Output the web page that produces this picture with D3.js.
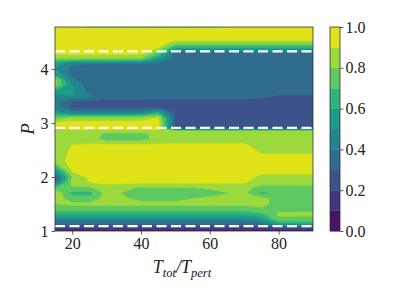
<!DOCTYPE html>
<html>
<head>
<meta charset="utf-8">
<script src="https://cdn.jsdelivr.net/npm/d3@7"></script>
<style>
body { margin: 0; background: #fff; }
text { font-family: "Liberation Serif", "DejaVu Serif", serif; fill: #222; }
</style>
</head>
<body>
<svg id="chart" width="399" height="299"></svg>
<script>
// grid columns: T_tot / T_pert
var ratios = [15, 20, 25, 30, 40, 45, 50, 60, 70, 75, 80, 85, 90];
// grid rows: P
var periods = [1.00, 1.05, 1.10, 1.15, 1.20, 1.30, 1.40, 1.50, 1.60, 1.70, 1.80, 1.90, 2.00, 2.10,
  2.30, 2.50, 2.60, 2.70, 2.80, 2.85, 2.90, 3.00, 3.10, 3.20, 3.30, 3.40, 3.50, 3.60, 3.70,
  3.80, 3.90, 4.00, 4.10, 4.20, 4.30, 4.40, 4.50, 4.60, 4.70, 4.78];

// one row per period, one value per ratio
var grid = [
  [.05, .05, .05, .05, .05, .05, .05, .05, .05, .05, .05, .05, .05],
  [.18, .18, .18, .18, .18, .18, .18, .18, .18, .18, .20, .22, .22],
  [.27, .27, .27, .27, .27, .27, .27, .27, .27, .30, .42, .44, .44],
  [.35, .35, .35, .35, .35, .35, .35, .35, .35, .40, .60, .62, .62],
  [.43, .43, .43, .43, .43, .43, .43, .43, .43, .50, .74, .75, .75],
  [.60, .60, .60, .60, .60, .60, .60, .60, .60, .66, .82, .82, .82],
  [.75, .75, .75, .75, .75, .75, .75, .75, .75, .78, .78, .78, .78],
  [.80, .82, .82, .82, .82, .82, .82, .82, .82, .83, .76, .76, .76],
  [.85, .75, .74, .84, .78, .78, .78, .82, .85, .84, .75, .74, .75],
  [.90, .66, .66, .84, .74, .74, .74, .77, .82, .68, .72, .74, .75],
  [.70, .78, .78, .86, .79, .79, .79, .81, .84, .76, .76, .76, .77],
  [.40, .85, .90, .92, .92, .92, .92, .92, .91, .84, .84, .84, .84],
  [.28, .80, .93, .95, .95, .95, .95, .95, .94, .88, .88, .88, .88],
  [.50, .90, .95, .95, .95, .95, .95, .95, .95, .92, .92, .92, .92],
  [.86, .93, .95, .95, .95, .95, .95, .95, .95, .94, .94, .94, .94],
  [.86, .91, .94, .95, .95, .95, .95, .95, .94, .88, .88, .88, .88],
  [.86, .90, .91, .91, .91, .91, .91, .91, .91, .86, .86, .86, .86],
  [.87, .87, .85, .76, .76, .84, .86, .86, .86, .86, .86, .86, .86],
  [.87, .87, .87, .77, .77, .84, .85, .85, .85, .85, .85, .85, .85],
  [.88, .88, .88, .88, .88, .88, .86, .86, .86, .86, .86, .86, .86],
  [.90, .92, .92, .92, .92, .93, .28, .28, .28, .28, .28, .28, .28],
  [.92, .95, .95, .95, .95, .95, .27, .27, .27, .27, .27, .27, .27],
  [.75, .82, .82, .82, .82, .90, .27, .27, .27, .27, .27, .27, .27],
  [.55, .42, .42, .42, .42, .60, .27, .27, .27, .27, .27, .27, .27],
  [.45, .27, .26, .26, .26, .27, .27, .27, .27, .27, .27, .27, .27],
  [.42, .30, .29, .27, .27, .27, .27, .27, .27, .27, .26, .26, .26],
  [.45, .50, .42, .35, .34, .34, .34, .34, .34, .32, .29, .29, .29],
  [.60, .52, .36, .35, .35, .35, .35, .35, .35, .35, .35, .35, .35],
  [.82, .50, .35, .35, .35, .35, .35, .35, .35, .35, .35, .35, .35],
  [.85, .42, .35, .35, .35, .35, .35, .35, .35, .35, .35, .35, .35],
  [.60, .36, .35, .35, .35, .35, .35, .35, .35, .35, .35, .35, .35],
  [.50, .37, .36, .36, .36, .36, .35, .35, .35, .35, .35, .35, .35],
  [.55, .42, .40, .40, .40, .38, .35, .35, .35, .35, .35, .35, .35],
  [.80, .82, .82, .82, .80, .55, .35, .35, .35, .35, .35, .35, .35],
  [.93, .94, .94, .94, .94, .75, .36, .36, .36, .36, .36, .36, .36],
  [.95, .95, .95, .95, .95, .90, .62, .62, .62, .62, .62, .62, .62],
  [.95, .95, .95, .95, .95, .94, .88, .88, .88, .88, .88, .88, .88],
  [.95, .95, .95, .95, .95, .95, .95, .95, .95, .95, .95, .95, .95],
  [.95, .95, .95, .95, .95, .95, .95, .95, .95, .95, .95, .95, .95],
  [.93, .92, .88, .88, .89, .88, .89, .88, .91, .90, .90, .91, .92]
];

var levels = [0, 0.1, 0.2, 0.3, 0.4, 0.5, 0.6, 0.7, 0.8, 0.9, 1.0];
var xTicks = [20, 40, 60, 80];
var yTicks = [1, 2, 3, 4];
var cbTicks = [0, 0.2, 0.4, 0.6, 0.8, 1.0];
var dashedP = [1.09, 2.91, 4.33];

var svg = d3.select('#chart');
var plotL = 55, plotR = 313, plotT = 27, plotB = 231;

var x = d3.scaleLinear().domain([15, 90]).range([plotL, plotR]);
var y = d3.scaleLinear().domain([1, 4.78]).range([plotB, plotT]);

// grid index -> data value (piecewise, clamped to the grid)
var colToX = d3.scaleLinear().domain(d3.range(ratios.length)).range(ratios).clamp(true);
var rowToY = d3.scaleLinear().domain(d3.range(periods.length)).range(periods).clamp(true);

var nx = ratios.length, ny = periods.length;
var values = [];
grid.forEach(function(row) { row.forEach(function(v) { values.push(v); }); });

var contours = d3.contours().size([nx, ny]).thresholds(levels.slice(0, -1))(values);

var proj = d3.geoTransform({
  point: function(gx, gy) {
    this.stream.point(x(colToX(gx - 0.5)), y(rowToY(gy - 0.5)));
  }
});
var path = d3.geoPath(proj);

svg.append('clipPath').attr('id', 'plotclip')
  .append('rect').attr('x', plotL).attr('y', plotT)
  .attr('width', plotR - plotL).attr('height', plotB - plotT);

var layerColor = function(t) {
  return d3.interpolateViridis(t + 0.05);
};

svg.append('g').attr('clip-path', 'url(#plotclip)')
  .selectAll('path').data(contours).enter()
  .append('path')
  .attr('d', path)
  .attr('fill', function(d) { return layerColor(d.value); })
  .attr('stroke', function(d) { return layerColor(d.value); })
  .attr('stroke-width', 0.4);

svg.append('g').selectAll('line').data(dashedP).enter()
  .append('line')
  .attr('x1', plotL).attr('x2', plotR)
  .attr('y1', function(d) { return y(d); })
  .attr('y2', function(d) { return y(d); })
  .attr('stroke', '#fff')
  .attr('stroke-width', 2.2)
  .attr('stroke-dasharray', '10,4.5');

svg.append('rect')
  .attr('x', plotL).attr('y', plotT)
  .attr('width', plotR - plotL).attr('height', plotB - plotT)
  .attr('fill', 'none').attr('stroke', '#333').attr('stroke-width', 0.8);

var xAxis = svg.append('g').attr('transform', 'translate(0,' + plotB + ')')
  .call(d3.axisBottom(x).tickValues(xTicks).tickSize(3.5).tickPadding(3).tickSizeOuter(0));
var yAxis = svg.append('g').attr('transform', 'translate(' + plotL + ',0)')
  .call(d3.axisLeft(y).tickValues(yTicks).tickFormat(d3.format('d'))
    .tickSize(3.5).tickPadding(3).tickSizeOuter(0));

[xAxis, yAxis].forEach(function(ax) {
  ax.select('.domain').remove();
  ax.selectAll('line').attr('stroke', '#333').attr('stroke-width', 0.8);
  ax.selectAll('text').style('font-size', '16px').attr('fill', '#222')
    .style('font-family', '"Liberation Serif", serif');
});

// colorbar
var cbL = 330, cbR = 340;
var cy = d3.scaleLinear().domain([0, 1]).range([plotB, plotT]);
svg.append('g').selectAll('rect').data(levels.slice(0, -1)).enter()
  .append('rect')
  .attr('x', cbL)
  .attr('y', function(d, i) { return cy(levels[i + 1]); })
  .attr('width', cbR - cbL)
  .attr('height', function(d, i) { return cy(levels[i]) - cy(levels[i + 1]) + 0.3; })
  .attr('fill', function(d) { return layerColor(d); });
svg.append('rect')
  .attr('x', cbL).attr('y', plotT)
  .attr('width', cbR - cbL).attr('height', plotB - plotT)
  .attr('fill', 'none').attr('stroke', '#333').attr('stroke-width', 0.8);

var cAxis = svg.append('g').attr('transform', 'translate(' + cbR + ',0)')
  .call(d3.axisRight(cy).tickValues(cbTicks).tickFormat(d3.format('.1f'))
    .tickSize(3.5).tickPadding(2).tickSizeOuter(0));
cAxis.select('.domain').remove();
cAxis.selectAll('line').attr('stroke', '#333').attr('stroke-width', 0.8);
cAxis.selectAll('text').style('font-size', '16px').attr('fill', '#222')
  .style('font-family', '"Liberation Serif", serif');

// axis labels
var xl = svg.append('text')
  .attr('x', 182).attr('y', 273)
  .attr('text-anchor', 'middle')
  .style('font-size', '18px').style('font-style', 'italic');
xl.append('tspan').text('T');
xl.append('tspan').attr('dy', 4).style('font-size', '12.5px').text('tot');
xl.append('tspan').attr('dy', -4).text('/T');
xl.append('tspan').attr('dy', 4).style('font-size', '12.5px').text('pert');

svg.append('text')
  .attr('transform', 'translate(34,' + ((plotT + plotB) / 2) + ') rotate(-90)')
  .attr('text-anchor', 'middle')
  .style('font-size', '19px').style('font-style', 'italic')
  .text('P');
</script>
</body>
</html>
